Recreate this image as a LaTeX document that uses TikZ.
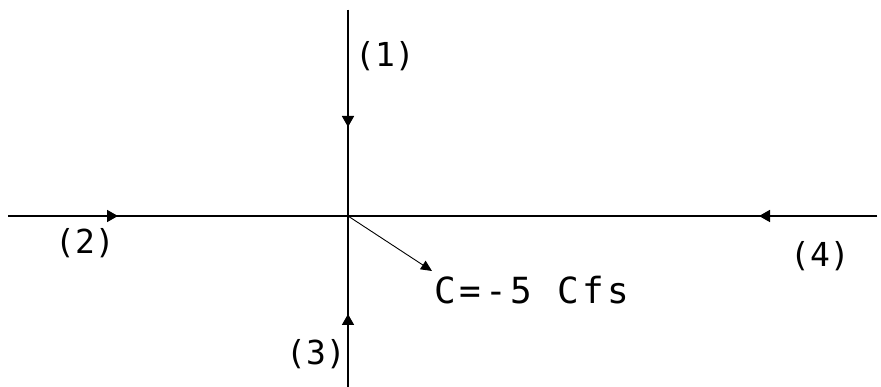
\documentclass[tikz,border=0pt]{standalone}
\usepackage{fontspec}
\setmonofont{DejaVu Sans Mono}
\newfontfamily\cadwide[LetterSpace=10]{DejaVu Sans Mono}
\usetikzlibrary{arrows.meta}
\tikzset{
  pipe/.style={line width=1.6pt},
  flow/.style={pipe, -{Triangle[length=11pt,width=12pt]}},
  lbl/.style={font=\ttfamily\fontsize{33}{33}\selectfont, inner sep=0pt}
}
\begin{document}
\begin{tikzpicture}[x=1pt,y=-1pt]
  \useasboundingbox (0,0) rectangle (881,387);
  \coordinate (o) at (348,216);
  \coordinate (top) at (348,10);
  \coordinate (bot) at (348,387);
  \coordinate (lft) at (8,216);
  \coordinate (rgt) at (877,216);
  \coordinate (t1) at (348,127);
  \coordinate (t2) at (118,216);
  \coordinate (t3) at (348,314);
  \coordinate (t4) at (759,216);
  \coordinate (tc) at (432,271);
  \foreach \a in {top,bot,lft,rgt} \draw[pipe] (\a) -- (o);
  \foreach \a/\b in {top/t1,lft/t2,bot/t3,rgt/t4} \draw[flow] (\a) -- (\b);
  \draw[line width=0.9pt, -{Triangle[length=11pt,width=10pt]}] (o) -- (tc);
  \node[lbl] (n1) at (385,56) {(1)};
  \node[lbl] (n2) at (85,243) {(2)};
  \node[lbl] (n3) at (316,354) {(3)};
  \node[lbl] (n4) at (820,256) {(4)};
  \node[lbl, font=\cadwide\fontsize{36}{36}\selectfont] (nc) at (532,290) {C=-5 Cfs};
\end{tikzpicture}
\end{document}
